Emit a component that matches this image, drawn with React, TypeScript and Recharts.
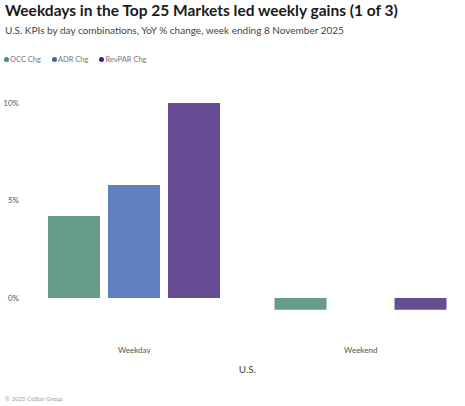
import { Bar, BarChart, Label, Legend, XAxis, YAxis } from 'recharts';

// Values (YoY % change, week ending 8 Nov 2025)
const CATEGORIES = ['Weekday', 'Weekend'];
const OCC_CHG = [4.2, -0.6];
const ADR_CHG = [5.8, 0.0];
const REVPAR_CHG = [10.0, -0.6];
const Y_TICKS = [0, 5, 10];

const SERIES = [
  { key: 'occ', name: 'OCC Chg', fill: '#679c8c', dot: '#4f8a78' },
  { key: 'adr', name: 'ADR Chg', fill: '#5e80be', dot: '#3f64aa' },
  { key: 'revpar', name: 'RevPAR Chg', fill: '#684c94', dot: '#3c2777' },
];

const FONT = 'Lato, "Open Sans", sans-serif';

const data = CATEGORIES.map((c, i) => ({
  cat: c,
  occ: OCC_CHG[i],
  adr: ADR_CHG[i],
  revpar: REVPAR_CHG[i],
}));

function LegendDots() {
  return (
    <div style={{ display: 'flex', height: 14, alignItems: 'center', fontFamily: FONT, fontSize: 7.5, color: '#777' }}>
      {SERIES.map((s) => (
        <span key={s.key} style={{ display: 'flex', alignItems: 'center', marginRight: 11 }}>
          <span
            style={{
              width: 5,
              height: 5,
              borderRadius: '50%',
              background: s.dot,
              display: 'inline-block',
              marginRight: 1,
            }}
          />
          {s.name}
        </span>
      ))}
    </div>
  );
}

export default function App() {
  return (
    <div
      style={{
        position: 'absolute',
        left: 0,
        top: 0,
        width: 465,
        height: 406,
        overflow: 'hidden',
        background: '#fff',
        fontFamily: FONT,
      }}
    >
      <div style={{ position: 'absolute', left: 5, top: 1, fontSize: 15.5, fontWeight: 700, color: '#1a1a1a', whiteSpace: 'nowrap' }}>
        Weekdays in the Top 25 Markets led weekly gains (1 of 3)
      </div>
      <div style={{ position: 'absolute', left: 5, top: 24, fontSize: 10, color: '#444', whiteSpace: 'nowrap' }}>
        U.S. KPIs by day combinations, YoY % change, week ending 8 November 2025
      </div>
      <div style={{ position: 'absolute', left: 0, top: 0 }}>
        <BarChart
          width={474}
          height={406}
          data={data}
          margin={{ top: 89, right: 0, bottom: 29, left: 0 }}
          barCategoryGap={27}
          barGap={8}
        >
          <Legend
            verticalAlign="top"
            align="left"
            content={<LegendDots />}
            wrapperStyle={{ top: 52, left: 4 }}
          />
          <XAxis
            dataKey="cat"
            axisLine={false}
            tickLine={false}
            tickSize={0}
            tickMargin={10}
            height={40}
            tick={{ fontSize: 8, fill: '#555', fontFamily: FONT }}
          >
            <Label value="U.S." position="insideBottom" offset={4} style={{ fontSize: 10, fill: '#444', fontFamily: FONT }} />
          </XAxis>
          <YAxis
            domain={[-2, 10]}
            ticks={Y_TICKS}
            width={21}
            axisLine={false}
            tickLine={false}
            tickSize={0}
            tickMargin={2}
            tickFormatter={(v) => `${v}%`}
            tick={{ fontSize: 8, fill: '#555', fontFamily: FONT }}
          />
          {SERIES.map((s) => (
            <Bar key={s.key} dataKey={s.key} name={s.name} fill={s.fill} isAnimationActive={false} />
          ))}
        </BarChart>
      </div>
      <div style={{ position: 'absolute', left: 5, top: 395, fontSize: 6, color: '#999', whiteSpace: 'nowrap' }}>
        © 2025 CoStar Group
      </div>
    </div>
  );
}
